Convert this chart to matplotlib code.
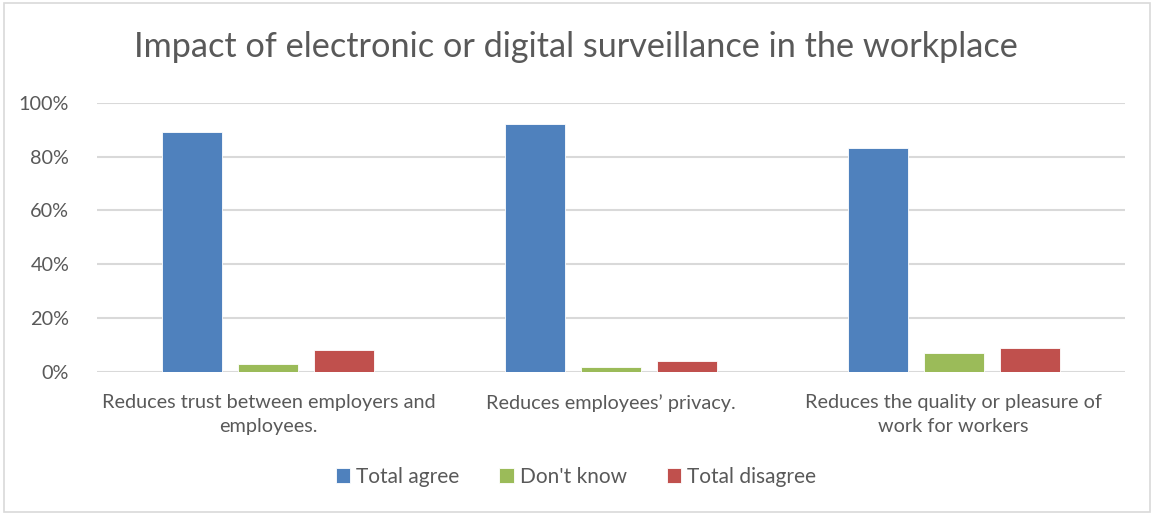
# Impact of electronic or digital surveillance in the workplace

import matplotlib.pyplot as plt
import numpy as np
from matplotlib.patches import Rectangle
from matplotlib.ticker import PercentFormatter

categories = ["Reduces trust between employers and\nemployees.",
              "Reduces employees\u2019 privacy.",
              "Reduces the quality or pleasure of\nwork for workers"]
total_agree = [89, 92, 83]
dont_know = [3, 2, 7]
total_disagree = [8, 4, 9]

series = [("Total agree", total_agree, "#4f81bd"),
          ("Don't know", dont_know, "#9bbb59"),
          ("Total disagree", total_disagree, "#c0504d")]

plt.rcParams["font.family"] = ["Lato", "DejaVu Sans"]
text_color = "#595959"

fig = plt.figure(figsize=(11.52, 5.15), dpi=100)
ax = fig.add_axes([97 / 1152, 1 - 372 / 515, (1125 - 97) / 1152, (372 - 102.7) / 515])

x = np.arange(len(categories))
width = 0.175
step = 0.222
for i, (name, vals, color) in enumerate(series):
    ax.bar(x + (i - 1) * step, vals, width, color=color, label=name,
           edgecolor="white", linewidth=0.6, zorder=3)

ax.set_xlim(-0.5, len(categories) - 0.5)
ax.set_ylim(0, 100)
ax.set_yticks(np.arange(0, 101, 20))
ax.yaxis.set_major_formatter(PercentFormatter(decimals=0))
ax.grid(axis="y", color="#d9d9d9", linewidth=1.5, zorder=0)
for s in ax.spines.values():
    s.set_visible(False)
ax.tick_params(axis="both", length=0, colors=text_color, labelsize=14.3)
ax.tick_params(axis="y", pad=20)
ax.set_xticks(x)
ax.set_xticklabels(categories, fontsize=14.3, color=text_color, linespacing=1.45)
ax.tick_params(axis="x", pad=16)

fig.text(0.5, 1 - 47 / 515, "Impact of electronic or digital surveillance in the workplace",
         ha="center", va="center", fontsize=24.7, color=text_color)

fig.legend(loc="center", bbox_to_anchor=(0.5, 1 - 477 / 515), ncol=3, frameon=False,
           fontsize=15, labelcolor=text_color, handlelength=0.7, handleheight=0.7,
           handletextpad=0.3, columnspacing=1.9)

fig.patches.append(Rectangle((4 / 1152, 3 / 515), 1146 / 1152, 509 / 515,
                             transform=fig.transFigure, fill=False,
                             edgecolor="#d9d9d9", linewidth=1.2))

fig.savefig("out.png", dpi=100)
